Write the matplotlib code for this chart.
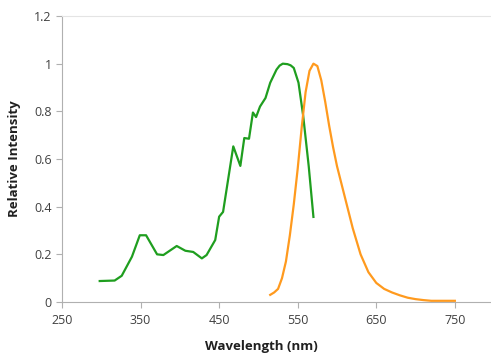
import matplotlib
matplotlib.use("Agg")
import matplotlib.pyplot as plt

# green curve (excitation-like)
green_nm = [298, 317, 326, 339, 349, 357, 371, 379, 396, 407, 417, 428, 434, 445,
            450, 455, 468, 477, 482, 488, 493, 497, 502, 509, 515, 523, 527, 531,
            537, 541, 545, 551, 557, 564, 570]
green_val = [0.088, 0.09, 0.11, 0.19, 0.28, 0.28, 0.20, 0.197, 0.235, 0.215, 0.21,
             0.183, 0.197, 0.26, 0.358, 0.378, 0.653, 0.571, 0.688, 0.685, 0.795,
             0.776, 0.82, 0.856, 0.92, 0.975, 0.992, 1.0, 0.998, 0.993, 0.982, 0.92,
             0.78, 0.57, 0.357]

# orange curve (emission-like)
orange_nm = [515, 520, 525, 530, 535, 540, 545, 550, 555, 560, 565, 570, 575, 580,
             585, 590, 595, 600, 610, 620, 630, 640, 650, 660, 670, 680, 690, 700,
             710, 720, 750]
orange_val = [0.03, 0.04, 0.055, 0.10, 0.17, 0.28, 0.41, 0.56, 0.73, 0.88, 0.97,
              1.0, 0.99, 0.93, 0.84, 0.74, 0.65, 0.57, 0.44, 0.31, 0.20, 0.125,
              0.08, 0.055, 0.04, 0.028, 0.018, 0.012, 0.008, 0.005, 0.005]

x_ticks = [250, 350, 450, 550, 650, 750]
y_ticks = [0, 0.2, 0.4, 0.6, 0.8, 1.0, 1.2]
y_tick_labels = ["0", "0.2", "0.4", "0.6", "0.8", "1", "1.2"]

plt.rcParams['font.family'] = ['Open Sans', 'DejaVu Sans']

fig = plt.figure(figsize=(4.91, 3.54), dpi=100)
ax = fig.add_axes([62 / 491, 1 - 302 / 354, (491 - 62) / 491, 286 / 354])

ax.plot(green_nm, green_val, color='#1f9e1f', lw=1.6, solid_joinstyle='round')
ax.plot(orange_nm, orange_val, color='#ff9a1e', lw=1.6, solid_joinstyle='round')

ax.set_xlim(250, 796)
ax.set_ylim(0, 1.2)
ax.set_xticks(x_ticks)
ax.set_yticks(y_ticks)
ax.set_yticklabels(y_tick_labels)

for side in ['left', 'bottom']:
    ax.spines[side].set_color('#b0b0b0')
ax.spines['top'].set_color('#e4e4e4')
ax.spines['right'].set_visible(False)
ax.tick_params(axis='both', colors='#b0b0b0', labelcolor='#404040',
               labelsize=9, length=4)
ax.tick_params(axis='x', pad=5)

ax.set_ylabel("Relative Intensity", fontsize=9.5, fontweight='bold', color='#202020')
ax.yaxis.set_label_coords(-0.095, 0.5)
ax.set_xlabel("Wavelength (nm)", fontsize=9.5, fontweight='bold', color='#202020')
ax.xaxis.set_label_coords((261 - 62) / 429, -38 / 286)

fig.savefig("out.png", dpi=100)
plt.close(fig)
